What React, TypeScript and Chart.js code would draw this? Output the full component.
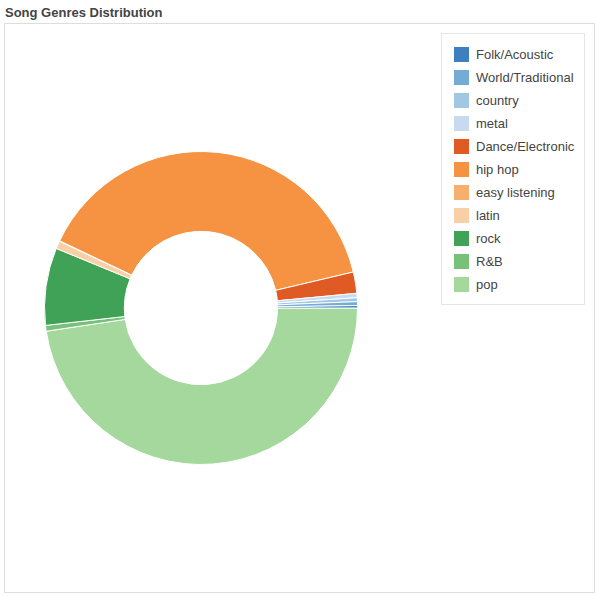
import React, { useEffect, useRef } from "react";
import { Chart, registerables } from "chart.js";

Chart.register(...registerables);

const genres = [
  "Folk/Acoustic",
  "World/Traditional",
  "country",
  "metal",
  "Dance/Electronic",
  "hip hop",
  "easy listening",
  "latin",
  "rock",
  "R&B",
  "pop",
];
const counts = [5, 8, 8, 9, 44, 786, 1, 16, 160, 12, 954];
const colors = [
  "#3d7fbf",
  "#74acd6",
  "#a0c8e2",
  "#c7daef",
  "#e05a23",
  "#f59342",
  "#f7af6e",
  "#f9d0a5",
  "#40a257",
  "#77c278",
  "#a5d89d",
];
const title = "Song Genres Distribution";

const FONT = "'Liberation Sans', Arial, Helvetica, sans-serif";

export default function App() {
  const ref = useRef<HTMLCanvasElement | null>(null);

  useEffect(() => {
    if (!ref.current) return;
    // slices run counter-clockwise in the reference: feed reversed order clockwise
    const labels = genres.slice().reverse();
    const data = counts.slice().reverse();
    const bg = colors.slice().reverse();
    const chart = new Chart(ref.current, {
      type: "doughnut",
      data: {
        labels,
        datasets: [
          {
            data,
            backgroundColor: bg,
            borderColor: "#ffffff",
            borderWidth: 1,
          },
        ],
      },
      options: {
        responsive: false,
        animation: false,
        devicePixelRatio: 1,
        rotation: 90,
        cutout: "49%",
        layout: { padding: 0 },
        plugins: {
          legend: { display: false },
          tooltip: { enabled: false },
          title: { display: false },
        },
      },
    });
    return () => chart.destroy();
  }, []);

  return (
    <div
      style={{
        position: "absolute",
        left: 0,
        top: 0,
        width: 598,
        height: 597,
        background: "#fff",
        fontFamily: FONT,
      }}
    >
      <div
        style={{
          position: "absolute",
          left: 5,
          top: 6,
          fontSize: 13,
          lineHeight: "13px",
          fontWeight: "bold",
          color: "#444",
          whiteSpace: "nowrap",
        }}
      >
        {title}
      </div>
      <div
        style={{
          position: "absolute",
          left: 4,
          top: 23,
          width: 591,
          height: 570,
          border: "1px solid #dddddd",
          boxSizing: "border-box",
        }}
      />
      <canvas
        ref={ref}
        width={314}
        height={314}
        style={{ position: "absolute", left: 44, top: 151, width: 314, height: 314 }}
      />
      <div
        style={{
          position: "absolute",
          left: 441,
          top: 33,
          width: 144,
          height: 272,
          border: "1px solid #e6e6e6",
          boxSizing: "border-box",
        }}
      >
        {genres.map((g, i) => (
          <React.Fragment key={g}>
            <div
              style={{
                position: "absolute",
                left: 12,
                top: 13 + i * 23,
                width: 15,
                height: 15,
                background: colors[i],
              }}
            />
            <div
              style={{
                position: "absolute",
                left: 34,
                top: 13 + i * 23,
                fontSize: 13,
                lineHeight: "15px",
                color: "#444",
                whiteSpace: "nowrap",
              }}
            >
              {g}
            </div>
          </React.Fragment>
        ))}
      </div>
    </div>
  );
}
